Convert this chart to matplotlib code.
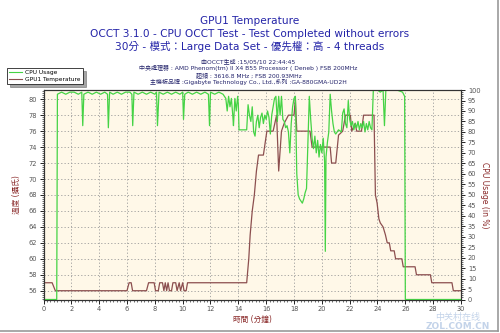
import numpy as np
import matplotlib
matplotlib.use("Agg")
import matplotlib.pyplot as plt
from matplotlib.ticker import MultipleLocator
from matplotlib.lines import Line2D

plt.rcParams['font.family'] = ['DejaVu Sans', 'Noto Sans CJK TC']

# GPU1 temperature (C) over time (minutes)
temp_t = [0.0, 0.62, 0.85, 6.0, 6.15, 6.3, 6.4, 7.4, 7.55, 7.95, 8.05, 8.25, 8.35, 8.55,
          8.65, 8.75, 8.85, 8.95, 9.05, 9.2, 9.3, 9.5, 9.6, 9.75, 9.85, 10.0, 10.1, 10.25,
          10.35, 14.6, 14.75, 14.85, 15.0, 15.15, 15.3, 15.45, 15.8, 16.05, 16.5, 16.75,
          16.9, 17.1, 17.3, 17.6, 18.0, 18.1, 18.2, 19.15, 19.3, 20.6, 20.7, 21.0, 21.2,
          21.5, 21.7, 22.05, 22.15, 22.4, 22.5, 22.85, 23.0, 23.75, 23.85, 23.97, 24.1,
          24.2, 24.4, 24.57, 24.7, 24.85, 24.95, 25.2, 25.3, 25.75, 25.85, 26.7, 26.8,
          27.8, 27.9, 29.35, 29.45, 30.0]
temp_c = [57, 57, 56, 56, 57, 57, 56, 56, 57, 57, 56, 56, 57, 57,
          56, 57, 56, 57, 56, 56, 57, 57, 56, 57, 56, 57, 56, 56,
          57, 57, 60, 63, 66, 68, 71, 73, 73, 76, 76, 78,
          71, 76, 77, 78, 78, 80, 76, 76, 74, 74, 72, 72, 75.5,
          76, 78, 78, 76, 77, 76, 76, 78, 78, 68, 67, 65,
          64.5, 64, 63, 62, 62, 61, 61, 60, 60, 59, 59, 58,
          58, 57, 57, 56, 56]

# CPU usage (%) over time (minutes)
cpu_t = [0.0, 0.95, 1.0, 1.3, 1.6, 1.9, 2.2, 2.5, 2.75, 2.82, 2.9, 3.2, 3.5, 3.8, 4.1, 4.4,
         4.6, 4.66, 4.75, 5.0, 5.3, 5.6, 5.9, 6.2, 6.35, 6.41, 6.5, 6.8, 7.1, 7.4, 7.7, 8.0,
         8.12, 8.19, 8.3, 8.6, 8.9, 9.2, 9.5, 9.8, 10.0, 10.06, 10.15, 10.4, 10.7, 11.0,
         11.3, 11.6, 11.85, 11.93, 12.0, 12.3, 12.6, 12.9, 13.1, 13.2, 13.3, 13.4, 13.5,
         13.6, 13.65, 13.75, 13.85, 13.95, 14.0, 14.05, 14.6, 14.7, 14.8, 14.9, 15.0, 15.1,
         15.2, 15.3, 15.4, 15.5, 15.6, 15.7, 15.8, 15.9, 16.0, 16.1, 16.2, 16.3, 16.4, 16.5,
         16.6, 16.7, 16.8, 16.9, 17.0, 17.1, 17.2, 17.3, 17.4, 17.5, 17.6, 17.7, 17.8, 17.9,
         18.0, 18.1, 18.2, 18.3, 18.4, 18.5, 18.6, 18.7, 18.8, 18.9, 19.0, 19.1, 19.2, 19.3,
         19.4, 19.5, 19.6, 19.7, 19.8, 19.9, 20.0, 20.1, 20.2, 20.25, 20.3, 20.4, 20.5, 20.6,
         20.7, 20.8, 20.9, 21.0, 21.2, 21.4, 21.5, 21.6, 21.7, 21.8, 21.9, 22.0, 22.1, 22.2,
         22.3, 22.4, 22.5, 22.6, 22.7, 22.8, 22.9, 23.0, 23.1, 23.2, 23.3, 23.4, 23.5, 23.6,
         23.7, 24.0, 24.2, 24.4, 24.5, 24.6, 25.0, 25.4, 25.8, 25.95, 26.0, 30.0]
cpu_pct = [0, 0, 98, 99, 98, 99, 99, 98, 99, 83, 98, 99, 98, 99, 98, 99,
           98, 82, 99, 98, 99, 98, 99, 99, 98, 83, 99, 98, 99, 98, 99, 98,
           99, 83, 99, 98, 99, 98, 99, 98, 99, 86, 98, 99, 98, 99,
           98, 99, 98, 83, 99, 98, 99, 98, 96, 90, 97, 92, 96,
           88, 83, 96, 90, 97, 93, 81, 81, 93, 88, 85, 92, 80,
           78, 85, 88, 82, 87, 89, 84, 88, 86, 90, 87, 79, 88, 92,
           96, 97, 85, 97, 88, 97, 86, 85, 82, 83, 80, 70, 84, 92,
           96, 97, 60, 50, 48, 47, 46, 48, 51, 53, 75, 97, 86, 77,
           72, 78, 70, 76, 68, 74, 70, 77, 66, 23, 68, 75, 80, 98,
           90, 84, 80, 79, 81, 80, 89, 91, 84, 82, 95, 86, 83, 85,
           81, 84, 82, 85, 81, 84, 82, 85, 80, 84, 81, 85, 82, 81,
           100, 100, 99, 100, 83, 100, 100, 100, 99, 97, 0, 0]

x_ticks = list(range(0, 31, 2))
temp_ticks = list(range(56, 81, 2))
cpu_ticks = list(range(0, 101, 5))

green = '#45d345'
brown = '#8c4f4f'
label_red = '#8b2b2b'
tick_grey = '#555555'

fig = plt.figure(figsize=(5, 3.33), dpi=100)
ax1 = fig.add_axes([0.087, 0.1006, 0.835, 0.629])
ax1.set_facecolor('#fff8e8')

ax1.plot(temp_t, temp_c, color=brown, lw=0.9)
ax1.set_xlim(0, 30)
ax1.set_ylim(54.9, 81.15)
ax1.set_xticks(x_ticks)
ax1.set_yticks(temp_ticks)
ax1.xaxis.set_minor_locator(MultipleLocator(0.25))
ax1.yaxis.set_minor_locator(MultipleLocator(0.25))
ax1.grid(True, which='major', color='#9a9a9a', lw=0.6, linestyle=(0, (1.5, 2.5)))
ax1.tick_params(which='major', length=3, width=0.6, labelsize=4.8, labelcolor=tick_grey, pad=2)
ax1.tick_params(which='minor', length=1.5, width=0.4)
ax1.set_ylabel('溫度 (攝氏)', color=label_red, fontsize=5.5, labelpad=5)
ax1.set_xlabel('時間 (分鐘)', color=label_red, fontsize=5.5, labelpad=2)

ax2 = ax1.twinx()
ax2.plot(cpu_t, cpu_pct, color=green, lw=0.9)
ax2.set_ylim(0, 100)
ax2.set_yticks(cpu_ticks)
ax2.yaxis.set_minor_locator(MultipleLocator(1))
ax2.tick_params(which='major', length=3, width=0.6, labelsize=4.8, labelcolor=tick_grey, pad=2)
ax2.tick_params(which='minor', length=1.5, width=0.4)
ax2.set_ylabel('CPU Usage (in %)', color=label_red, fontsize=5.5, rotation=270, labelpad=6)

for ax in (ax1, ax2):
    for s in ax.spines.values():
        s.set_color('#333333')
        s.set_linewidth(0.8)

# headings
blue = '#2424a8'
fig.text(0.5, 0.937, 'GPU1 Temperature', ha='center', va='center', color=blue, fontsize=7.6)
fig.text(0.5, 0.898, 'OCCT 3.1.0 - CPU OCCT Test - Test Completed without errors',
         ha='center', va='center', color=blue, fontsize=7.6)
fig.text(0.5, 0.860, '30分 - 模式：Large Data Set - 優先權：高 - 4 threads',
         ha='center', va='center', color=blue, fontsize=7.6)

info = ['由OCCT生成 :15/05/10 22:44:45',
        '中央處理器 : AMD Phenom(tm) II X4 B55 Processor ( Deneb ) FSB 200MHz',
        '超頻 : 3616.8 MHz ; FSB 200.93MHz',
        '主機板品牌 :Gigabyte Technology Co., Ltd.,系列 :GA-880GMA-UD2H']
for i, line in enumerate(info):
    fig.text(0.497, 0.817 - i * 0.021, line, ha='center', va='center',
             color='#22226a', fontsize=4.3)

handles = [Line2D([], [], color=green, lw=0.8), Line2D([], [], color=brown, lw=0.8)]
leg = fig.legend(handles, ['CPU Usage', 'GPU1 Temperature'], loc='upper left',
                 bbox_to_anchor=(0.008, 0.805), fontsize=4.2, frameon=True, fancybox=False,
                 shadow=True, edgecolor='#222222', handlelength=2.2, borderpad=0.4,
                 labelspacing=0.3, handletextpad=0.5)
leg.get_frame().set_linewidth(0.6)

# watermark
fig.text(0.915, 0.047, '中关村在线', family=['Noto Sans CJK SC'], color='#b4c8e4',
         fontsize=6.5, ha='center', va='center', alpha=0.8)
fig.text(0.915, 0.020, 'ZOL.COM.CN', color='#b4c8e4', fontsize=6.5, fontweight='bold',
         ha='center', va='center', alpha=0.8)

# outer frame on the right and bottom
fig.add_artist(Line2D([0.995, 0.995], [0.005, 1.0], color='#999999', lw=1.2))
fig.add_artist(Line2D([0.0, 0.995], [0.006, 0.006], color='#999999', lw=1.2))

fig.savefig('out.png', dpi=100)
